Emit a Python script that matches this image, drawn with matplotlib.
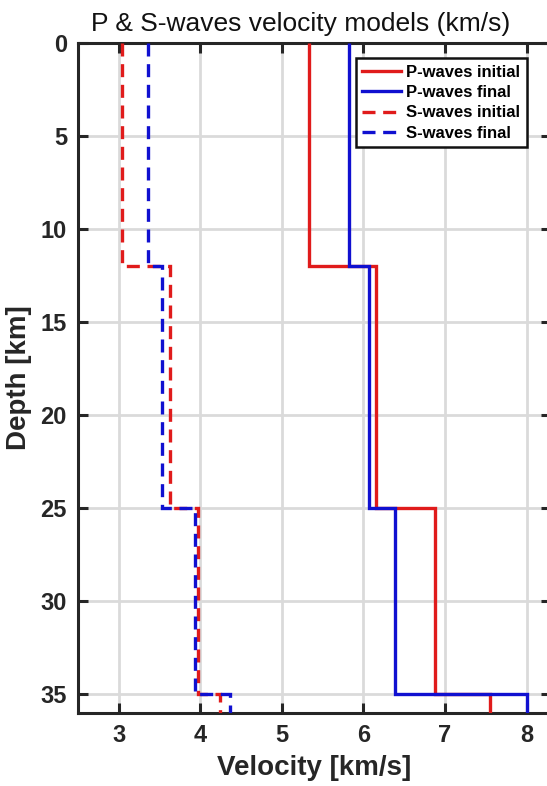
import matplotlib
matplotlib.use("Agg")
import matplotlib.pyplot as plt
from matplotlib.lines import Line2D

plt.rcParams['font.family'] = ['Liberation Sans', 'DejaVu Sans']

# Layer boundaries (depth, km)
depth_edges = [0, 12, 25, 35, 36]

# Velocities per layer (km/s)
p_initial = [5.33, 6.16, 6.88, 7.55]
p_final = [5.82, 6.07, 6.39, 8.01]
s_initial = [3.04, 3.63, 3.97, 4.24]
s_final = [3.36, 3.53, 3.94, 4.36]

labels = ["P-waves initial", "P-waves final", "S-waves initial", "S-waves final"]
title = "P & S-waves velocity models (km/s)"
xticks = [3, 4, 5, 6, 7, 8]
yticks = [0, 5, 10, 15, 20, 25, 30, 35]

W, H = 547, 786
fig = plt.figure(figsize=(W / 100, H / 100), dpi=100)
left_px, right_px, top_px, bot_px = 78, 551, 43, 713
ax = fig.add_axes([left_px / W, (H - bot_px) / H,
                   (right_px - left_px) / W, (bot_px - top_px) / H])

red = '#e01b1b'
blue = '#1010d0'
lw = 2.4
dash = (3.9, 2.3)

series = [
    (p_initial, red, '-'),
    (p_final, blue, '-'),
    (s_initial, red, '--'),
    (s_final, blue, '--'),
]
handles = []
for (vals, col, ls), lab in zip(series, labels):
    art = ax.stairs(vals, depth_edges, orientation='horizontal', baseline=None,
                    color=col, linewidth=lw, zorder=3)
    if ls == '--':
        art.set_linestyle((0, dash))
        h = Line2D([], [], color=col, lw=lw, linestyle=(0, dash))
    else:
        art.set_linestyle('-')
        h = Line2D([], [], color=col, lw=lw, linestyle='-')
    handles.append(h)

ax.set_xlim(2.5, 8.3)
ax.set_ylim(36, 0)
ax.set_xticks(xticks)
ax.set_yticks(yticks)
ax.grid(True, color='#dadada', linewidth=2.0, zorder=0)
ax.set_axisbelow(True)

for sp in ax.spines.values():
    sp.set_linewidth(2.2)
    sp.set_color('#262626')
ax.tick_params(direction='in', length=7, width=2.2, color='#262626',
               top=True, right=True, labelsize=17, pad=8)
for t in ax.get_xticklabels() + ax.get_yticklabels():
    t.set_fontweight('bold')
    t.set_color('#262626')

ax.set_xlabel("Velocity [km/s]", fontsize=20, fontweight='bold', color='#262626', labelpad=6)
ax.set_ylabel("Depth [km]", fontsize=20, fontweight='bold', color='#262626', labelpad=6)
ax.set_title(title, fontsize=19, x=(301 - left_px) / (right_px - left_px), pad=9, color='#111111')

leg = ax.legend(handles, labels, loc='upper right',
                bbox_to_anchor=((527 - left_px) / (right_px - left_px), (bot_px - 58) / (bot_px - top_px)),
                borderaxespad=0, fancybox=False, framealpha=1, edgecolor='#111111',
                prop={'weight': 'bold', 'size': 12}, handlelength=2.3, handletextpad=0.35,
                labelspacing=0.32, borderpad=0.4)
leg.get_frame().set_linewidth(1.8)

fig.savefig("out.png", dpi=100)
